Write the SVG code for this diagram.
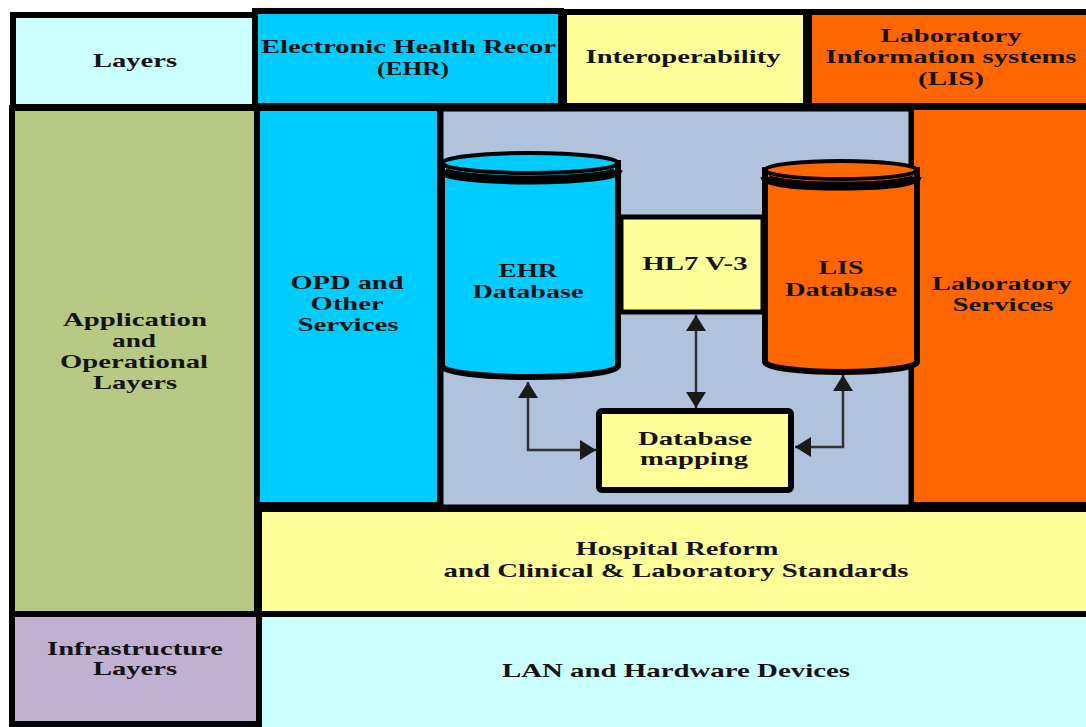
<svg xmlns="http://www.w3.org/2000/svg" width="1086" height="727" viewBox="0 0 1086 727">
<style>
.box{stroke:#000;stroke-width:6}
.t{font-family:'Liberation Serif','DejaVu Serif',serif;font-weight:700;font-size:19px;fill:#141414;text-anchor:middle}
.ts{font-family:'Liberation Serif','DejaVu Serif',serif;font-weight:700;font-size:19px;fill:#141414;text-anchor:start}
.cyl{stroke:#000;stroke-width:6}
.conn{fill:none;stroke:#333;stroke-width:2.5}
</style>
<defs>
<marker id="ah" viewBox="0 0 16 20" refX="16" refY="10" markerWidth="16" markerHeight="20" markerUnits="userSpaceOnUse" orient="auto-start-reverse">
<path d="M0,0 L16,10 L0,20 Z" fill="#1a1a1a"/>
</marker>
</defs>
<rect width="1086" height="727" fill="#fff"/>

<g id="layers-head">
<rect class="box" x="13" y="15" width="242" height="92" fill="#ccffff"/>
<text class="t" x="135" y="67" textLength="84" lengthAdjust="spacingAndGlyphs">Layers</text>
</g>
<g id="ehr-head">
<rect class="box" x="255" y="11" width="306" height="95" fill="#00ccff"/>
<text class="ts" x="261" y="53" textLength="295" lengthAdjust="spacingAndGlyphs">Electronic Health Recor</text>
<text class="t" x="413" y="75" textLength="72" lengthAdjust="spacingAndGlyphs">(EHR)</text>
</g>
<g id="interop-head">
<rect class="box" x="564" y="12" width="242" height="94" fill="#ffff99"/>
<text class="t" x="683" y="63" textLength="195" lengthAdjust="spacingAndGlyphs">Interoperability</text>
</g>
<g id="lis-head">
<rect class="box" x="809" y="12" width="290" height="94" fill="#ff6600"/>
<text class="t" x="951" y="42" textLength="141" lengthAdjust="spacingAndGlyphs">Laboratory</text>
<text class="t" x="951" y="63" textLength="251" lengthAdjust="spacingAndGlyphs">Information systems</text>
<text class="t" x="951" y="85" textLength="66" lengthAdjust="spacingAndGlyphs">(LIS)</text>
</g>

<g id="application">
<rect class="box" x="12" y="108" width="245" height="506" fill="#b8c986"/>
<text class="t" x="135" y="326" textLength="144" lengthAdjust="spacingAndGlyphs">Application</text>
<text class="t" x="134" y="347" textLength="44" lengthAdjust="spacingAndGlyphs">and</text>
<text class="t" x="134" y="368" textLength="148" lengthAdjust="spacingAndGlyphs">Operational</text>
<text class="t" x="135" y="389" textLength="84" lengthAdjust="spacingAndGlyphs">Layers</text>
</g>
<g id="opd">
<rect class="box" x="257" y="108" width="183" height="397" fill="#00ccff"/>
<text class="t" x="347" y="289" textLength="113" lengthAdjust="spacingAndGlyphs">OPD and</text>
<text class="t" x="347" y="310" textLength="73" lengthAdjust="spacingAndGlyphs">Other</text>
<text class="t" x="348" y="331" textLength="101" lengthAdjust="spacingAndGlyphs">Services</text>
</g>
<g id="lab-services">
<rect class="box" x="911" y="107" width="190" height="398" fill="#ff6600"/>
<text class="t" x="1002" y="290" textLength="140" lengthAdjust="spacingAndGlyphs">Laboratory</text>
<text class="t" x="1003" y="311" textLength="101" lengthAdjust="spacingAndGlyphs">Services</text>
</g>
<g id="integration-area">
<rect x="441" y="109" width="470" height="398" fill="#b0c2dc" stroke="#000" stroke-width="5"/>
</g>
<g id="hospital">
<rect class="box" x="259" y="509" width="840" height="105" fill="#ffff99"/>
<text class="t" x="677" y="555" textLength="203" lengthAdjust="spacingAndGlyphs">Hospital Reform</text>
<text class="t" x="676" y="577" textLength="465" lengthAdjust="spacingAndGlyphs">and Clinical &amp; Laboratory Standards</text>
</g>
<g id="infrastructure">
<rect class="box" x="12" y="614" width="247" height="110" fill="#c0b0d2"/>
<text class="t" x="135" y="655" textLength="176" lengthAdjust="spacingAndGlyphs">Infrastructure</text>
<text class="t" x="135" y="675" textLength="84" lengthAdjust="spacingAndGlyphs">Layers</text>
</g>
<g id="lan">
<rect class="box" x="259" y="614" width="840" height="120" fill="#ccffff"/>
<text class="t" x="676" y="677" textLength="348" lengthAdjust="spacingAndGlyphs">LAN and Hardware Devices</text>
</g>

<g id="hl7">
<rect x="621" y="217" width="142" height="95" fill="#ffff99" stroke="#000" stroke-width="5"/>
<text class="t" x="695" y="270" textLength="105" lengthAdjust="spacingAndGlyphs">HL7 V-3</text>
</g>
<g id="ehr-db">
<path class="cyl" d="M442,163 L442,366 A88,11 0 0,0 618,366 L618,163 Z" fill="#00ccff"/>
<ellipse cx="530" cy="163" rx="88" ry="10" fill="#00ccff" stroke="#000" stroke-width="4"/>
<path d="M442,170 A88,10 0 0,0 618,170" fill="none" stroke="#000" stroke-width="9"/>
<text class="t" x="528" y="277" textLength="59" lengthAdjust="spacingAndGlyphs">EHR</text>
<text class="t" x="528" y="298" textLength="111" lengthAdjust="spacingAndGlyphs">Database</text>
</g>
<g id="lis-db">
<path class="cyl" d="M765,170 L765,362 A76,10 0 0,0 917,362 L917,170 Z" fill="#ff6600" stroke-width="7"/>
<ellipse cx="841" cy="170" rx="76" ry="9" fill="#ff6600" stroke="#000" stroke-width="4"/>
<path d="M765,177 A76,9 0 0,0 917,177" fill="none" stroke="#000" stroke-width="9"/>
<text class="t" x="841" y="274" textLength="45" lengthAdjust="spacingAndGlyphs">LIS</text>
<text class="t" x="841" y="296" textLength="112" lengthAdjust="spacingAndGlyphs">Database</text>
</g>
<g id="db-mapping">
<rect x="599" y="411" width="192" height="79" rx="3" fill="#ffff99" stroke="#000" stroke-width="6"/>
<text class="t" x="695" y="445" textLength="114" lengthAdjust="spacingAndGlyphs">Database</text>
<text class="t" x="694" y="465" textLength="108" lengthAdjust="spacingAndGlyphs">mapping</text>
</g>

<g id="connectors">
<path class="conn" d="M696,315 V408" marker-start="url(#ah)" marker-end="url(#ah)"/>
<path class="conn" d="M528,382 V450 H596" marker-start="url(#ah)" marker-end="url(#ah)"/>
<path class="conn" d="M843,375 V447 H795" marker-start="url(#ah)" marker-end="url(#ah)"/>
</g>
</svg>
